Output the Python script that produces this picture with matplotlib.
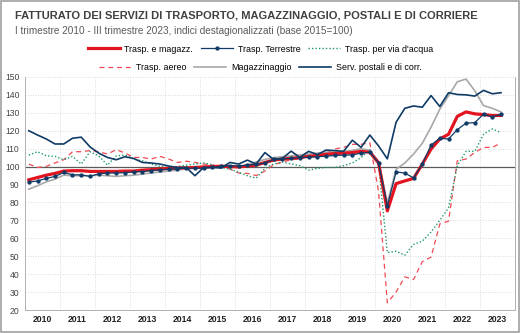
import matplotlib
matplotlib.use("Agg")
import matplotlib.pyplot as plt
from matplotlib.lines import Line2D
from matplotlib.patches import Rectangle

plt.rcParams['font.family'] = ['Liberation Sans', 'DejaVu Sans']

years = ['2010', '2011', '2012', '2013', '2014', '2015', '2016',
         '2017', '2018', '2019', '2020', '2021', '2022', '2023']

# I trim. 2010 - III trim. 2023, 55 quarters
trasp_magazz = [92.6, 93.9, 95.2, 96.2, 97.5, 97.7, 97.7, 97.3,
                97.3, 97.3, 97.3, 97.5, 97.5, 98.0, 98.3, 98.7,
                99.0, 99.2, 99.3, 99.5, 99.8, 100.0, 100.2, 100.0,
                99.8, 100.3, 100.8, 102.3, 103.6, 104.2, 104.6, 105.1,
                105.7, 106.2, 106.8, 107.3, 107.5, 107.8, 108.5, 108.0,
                102.0, 75.3, 90.5, 92.0, 93.4, 101.4, 109.8, 115.4,
                118.0, 128.0, 130.5, 129.4, 129.0, 128.5, 128.5]
terrestre = [91.3, 92.0, 93.4, 94.5, 96.7, 95.4, 95.4, 94.5,
             96.0, 96.4, 96.4, 96.6, 97.0, 97.2, 97.8, 98.2,
             98.5, 98.8, 99.2, 99.0, 99.2, 99.5, 100.2, 100.5,
             100.3, 100.8, 101.2, 102.0, 104.0, 104.3, 104.6, 105.0,
             105.2, 105.5, 105.8, 106.2, 106.4, 106.5, 107.5, 108.0,
             102.0, 78.0, 97.0, 96.4, 93.7, 101.4, 112.0, 115.8,
             115.4, 120.6, 124.2, 124.5, 129.2, 127.6, 129.2]
acqua = [106.4, 108.3, 106.0, 105.7, 103.8, 105.7, 101.4, 108.3,
         106.0, 100.8, 106.0, 106.4, 104.2, 103.2, 101.4, 100.1,
         99.5, 100.0, 100.8, 101.4, 102.0, 101.0, 99.5, 98.6,
         96.8, 94.9, 93.5, 99.0, 101.5, 102.5, 101.5, 100.5,
         98.0, 99.0, 99.5, 99.5, 100.5, 102.0, 105.0, 109.5,
         101.0, 52.0, 52.8, 50.6, 56.6, 58.4, 63.5, 70.0,
         77.0, 100.5, 108.5, 108.5, 118.0, 121.0, 119.0]
aereo = [101.4, 99.5, 100.1, 102.0, 103.8, 108.3, 108.3, 108.9,
         108.3, 107.0, 109.4, 107.6, 105.1, 105.1, 104.2, 105.7,
         104.2, 102.3, 103.0, 102.3, 101.4, 100.8, 100.1, 98.6,
         96.4, 96.2, 95.0, 97.5, 101.0, 102.5, 103.8, 104.2,
         106.0, 106.4, 107.6, 109.8, 110.7, 112.4, 112.4, 113.3,
         86.0, 24.0, 30.0, 38.5, 37.0, 47.0, 49.5, 68.0,
         69.6, 103.2, 104.2, 107.9, 110.7, 110.7, 113.2]
magazzinaggio = [87.4, 89.3, 91.5, 93.0, 95.2, 94.9, 94.9, 94.9,
                 95.2, 94.9, 94.5, 94.9, 95.2, 95.8, 96.5, 97.0,
                 97.5, 98.0, 98.8, 99.3, 99.8, 100.0, 100.2, 100.0,
                 100.0, 101.0, 102.5, 104.0, 105.0, 105.5, 106.0, 106.5,
                 107.0, 107.5, 108.0, 108.0, 108.5, 109.0, 110.0, 109.0,
                 103.0, 79.7, 98.5, 102.0, 107.0, 113.0, 122.0, 132.0,
                 139.5, 147.3, 148.8, 142.3, 134.0, 132.5, 130.5]
postali = [120.0, 117.6, 115.4, 112.6, 112.6, 115.8, 116.4, 111.0,
           107.5, 105.1, 103.8, 105.5, 104.5, 102.3, 102.0, 101.4,
           100.3, 99.5, 99.5, 94.9, 99.5, 99.5, 99.2, 102.3,
           101.4, 103.6, 101.4, 107.8, 104.0, 104.6, 108.6, 105.1,
           108.5, 106.7, 109.2, 108.9, 108.5, 114.7, 110.7, 117.6,
           111.5, 104.3, 124.7, 132.5, 133.8, 133.1, 139.6, 133.5,
           141.2, 140.2, 140.0, 139.3, 142.5, 140.6, 141.2]

RED = '#e2141f'
BLUE = '#0f3b66'
GREEN = '#1f9a6a'
PINK = '#ee4a55'
GRAY = '#a8a8a8'


def draw():
    fig = plt.figure(figsize=(5.21, 3.33), dpi=100)
    ax = fig.add_axes([0.048, 0.069, 0.94, 0.70])
    x = list(range(len(trasp_magazz)))

    ax.plot(x, aereo, color=PINK, lw=0.9, ls=(0, (4, 3)), zorder=3)
    ax.plot(x, acqua, color=GREEN, lw=1.0, ls=(0, (1, 1.5)), zorder=3)
    ax.plot(x, magazzinaggio, color=GRAY, lw=1.2, zorder=4)
    ax.plot(x, trasp_magazz, color=RED, lw=2.3, zorder=5)
    ax.plot(x, terrestre, color=BLUE, lw=0.9, marker='o', ms=2.1,
            zorder=6)
    ax.plot(x, postali, color=BLUE, lw=1.2, zorder=7)

    ax.axhline(100, color='#5a5a5a', lw=0.9, zorder=2)

    ax.set_xlim(-0.43, 55.57)
    ax.set_ylim(20, 150)
    ax.set_yticks(range(20, 151, 10))
    ax.set_xticks([4 * k + 1.57 for k in range(len(years))])
    ax.set_xticklabels(years, fontweight='bold')
    ax.set_xticks([4 * k - 0.43 for k in range(1, len(years))], minor=True)
    ax.tick_params(axis='both', which='both', length=0, labelsize=6.2,
                   colors='#222222')
    ax.tick_params(axis='y', pad=4, colors='#444444')
    ax.grid(axis='y', which='major', color='#cfcfcf', lw=0.6, ls=(0, (1, 2)))
    ax.grid(axis='x', which='minor', color='#cfcfcf', lw=0.6, ls=(0, (1, 2)))
    ax.spines['top'].set_visible(False)
    for side in ['left', 'bottom', 'right']:
        ax.spines[side].set_color('#b0b0b0')
        ax.spines[side].set_linewidth(0.7)

    fig.text(0.029, 0.953, 'FATTURATO DEI SERVIZI DI TRASPORTO, '
             'MAGAZZINAGGIO, POSTALI E DI CORRIERE', fontsize=8.05,
             fontweight='bold', color='#404040', va='center')
    fig.text(0.029, 0.908, 'I trimestre 2010 - III trimestre 2023, indici '
             'destagionalizzati (base 2015=100)', fontsize=7.2,
             color='#5a5a5a', va='center')

    row1 = [Line2D([], [], color=RED, lw=2.3),
            Line2D([], [], color=BLUE, lw=0.9, marker='o', ms=2.1),
            Line2D([], [], color=GREEN, lw=1.0, ls=(0, (1, 1.5)))]
    row2 = [Line2D([], [], color=PINK, lw=0.9, ls=(0, (4, 3))),
            Line2D([], [], color=GRAY, lw=1.2),
            Line2D([], [], color=BLUE, lw=1.2)]
    opts = dict(loc='center', ncol=3, frameon=False, fontsize=6.4,
                handlelength=3.6, handletextpad=0.5, columnspacing=0.9,
                borderpad=0)
    fig.legend(row1, ['Trasp. e magazz.', 'Trasp. Terrestre',
                      "Trasp. per via d'acqua"],
               bbox_to_anchor=(0.5, 1 - 49 / 333), **opts)
    fig.legend(row2, ['Trasp. aereo', 'Magazzinaggio',
                      'Serv. postali e di corr.'],
               bbox_to_anchor=(0.5, 1 - 68 / 333), **opts)

    fig.patches.append(Rectangle((0.002, 0.003), 0.995, 0.994,
                                 transform=fig.transFigure, fill=False,
                                 edgecolor='#a0a0a0', lw=1.2))
    fig.savefig('out.png', dpi=100)


def main():
    draw()


if __name__ == "__main__":
    main()
